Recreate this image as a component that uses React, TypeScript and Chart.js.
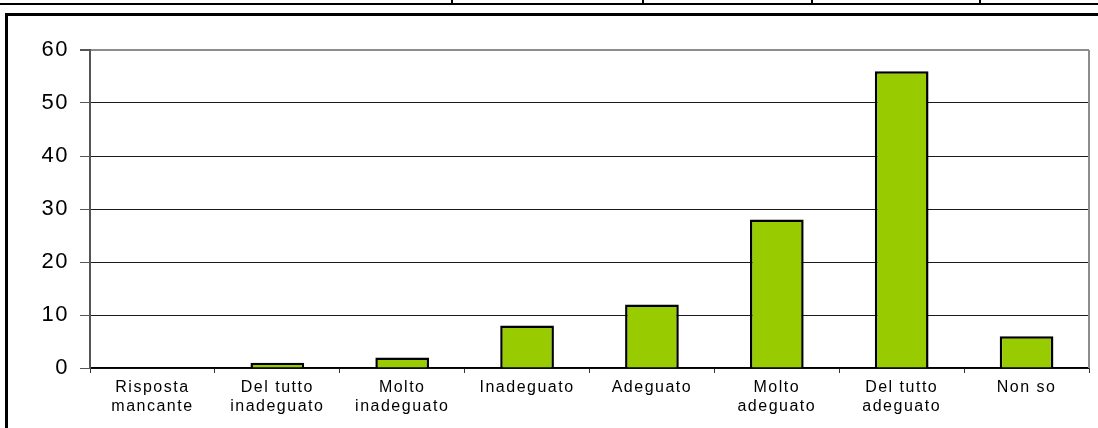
import React, { useEffect, useRef } from "react";
import { Chart, registerables } from "chart.js";

Chart.register(...registerables);

const categories: string[][] = [
  ["Risposta", "mancante"],
  ["Del tutto", "inadeguato"],
  ["Molto", "inadeguato"],
  ["Inadeguato"],
  ["Adeguato"],
  ["Molto", "adeguato"],
  ["Del tutto", "adeguato"],
  ["Non so"],
];
const values: number[] = [0, 1, 2, 8, 12, 28, 56, 6];
const yMin = 0;
const yMax = 60;
const yStep = 10;
const headerDividers: number[] = [452, 643, 812, 980];

const FONT = "'Liberation Sans', Arial, sans-serif";

const spacingPlugin = {
  id: "spacing",
  beforeDraw(chart: any) {
    chart.ctx.save();
    (chart.ctx as any).letterSpacing = "1.5px";
  },
  afterDraw(chart: any) {
    chart.ctx.restore();
  },
};

const borderPlugin = {
  id: "plotBorder",
  afterDatasetsDraw(chart: any) {
    const { ctx, chartArea } = chart;
    ctx.save();
    ctx.strokeStyle = "#8c8c8c";
    ctx.lineWidth = 2;
    ctx.beginPath();
    ctx.moveTo(chartArea.right, chartArea.top);
    ctx.lineTo(chartArea.right, chartArea.bottom);
    ctx.stroke();
    ctx.restore();
  },
};

export default function App() {
  const ref = useRef<HTMLCanvasElement>(null);
  useEffect(() => {
    document.body.style.margin = "0";
    const chart = new Chart(ref.current!, {
      type: "bar",
      data: {
        labels: categories,
        datasets: [
          {
            data: values,
            backgroundColor: "#99cc00",
            borderColor: "#000000",
            borderWidth: 2.5,
            categoryPercentage: 1,
            barPercentage: 0.43,
          },
        ],
      },
      options: {
        animation: false,
        responsive: false,
        maintainAspectRatio: false,
        layout: { padding: { top: 50, right: 9, bottom: 0, left: 0 } },
        plugins: { legend: { display: false }, tooltip: { enabled: false } },
        scales: {
          x: {
            offset: true,
            grid: {
              display: true,
              offset: true,
              drawOnChartArea: false,
              drawTicks: true,
              tickLength: 5,
              color: "#333333",
              lineWidth: 1,
            },
            border: { display: true, color: "#000000", width: 1.5 },
            ticks: {
              color: "#000000",
              font: { family: FONT, size: 16, lineHeight: 1.2 },
              padding: 5,
              maxRotation: 0,
              autoSkip: false,
            },
            afterFit: (s: any) => {
              s.height = 60;
            },
          },
          y: {
            min: yMin,
            max: yMax,
            grid: {
              color: (c: any) => (c.tick && c.tick.value === yMax ? "#8c8c8c" : "#1a1a1a"),
              lineWidth: (c: any) => (c.tick && c.tick.value === yMax ? 2 : 1),
              drawTicks: true,
              tickLength: 10,
              tickColor: "#555555",
            },
            border: { display: true, color: "#555555", width: 2 },
            ticks: {
              stepSize: yStep,
              color: "#000000",
              font: { family: FONT, size: 22 },
              padding: 11,
            },
            afterFit: (s: any) => {
              s.width = 90;
            },
          },
        },
      },
      plugins: [spacingPlugin, borderPlugin],
    });
    return () => chart.destroy();
  }, []);

  return (
    <div style={{ position: "relative", width: 1098, height: 428, overflow: "hidden", background: "#fff" }}>
      <canvas ref={ref} width={1098} height={428} style={{ position: "absolute", left: 0, top: 0 }} />
      <div style={{ position: "absolute", left: 0, top: 3, width: 1098, height: 2, background: "#000" }} />
      {headerDividers.map((x) => (
        <div key={x} style={{ position: "absolute", left: x - 1, top: 0, width: 2, height: 4, background: "#000" }} />
      ))}
      <div style={{ position: "absolute", left: 5, top: 13, width: 1093, height: 3, background: "#000" }} />
      <div style={{ position: "absolute", left: 5, top: 13, width: 3, height: 415, background: "#000" }} />
    </div>
  );
}
